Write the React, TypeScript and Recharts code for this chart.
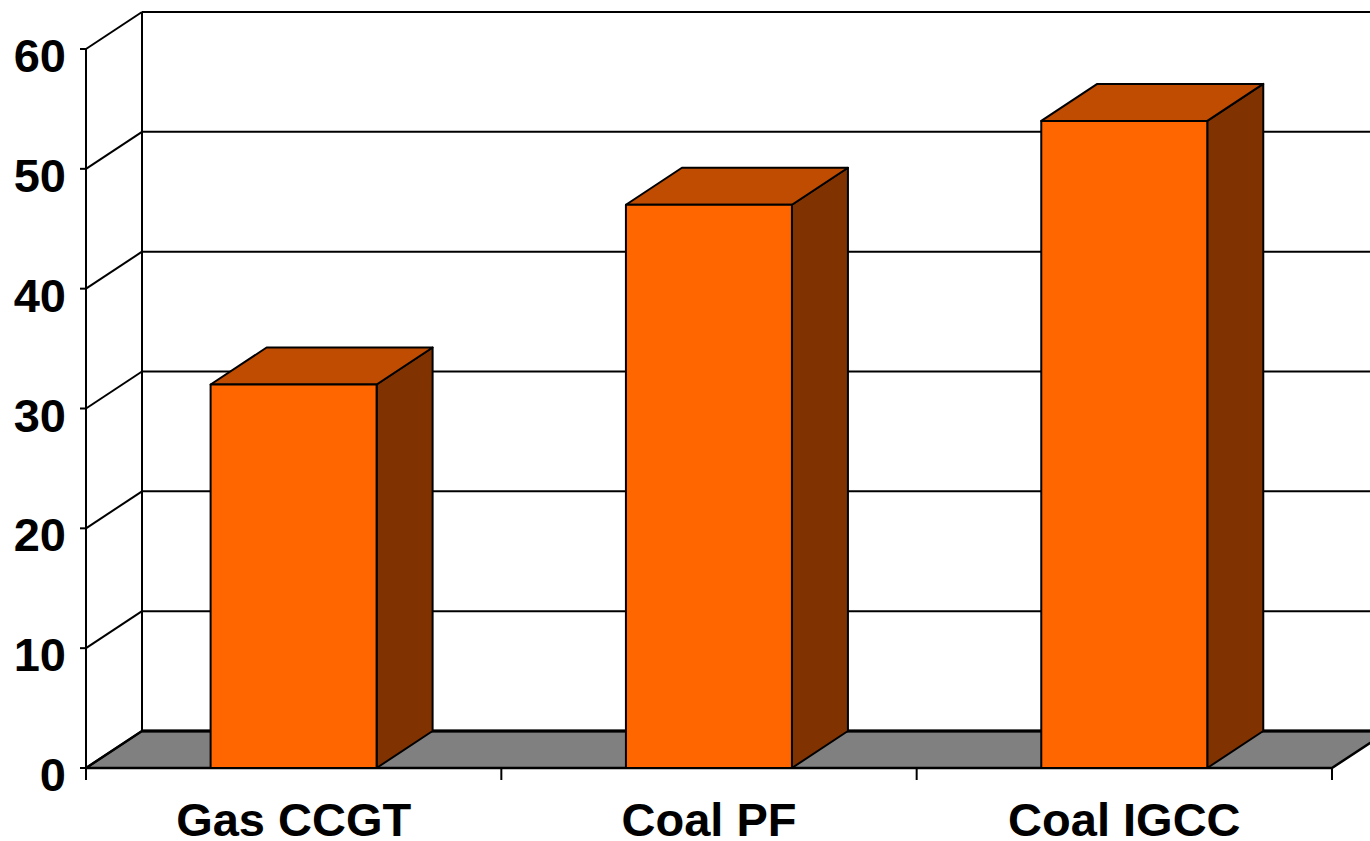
import React from "react";
import { BarChart, Bar, XAxis, YAxis, CartesianGrid } from "recharts";

const categories = ["Gas CCGT", "Coal PF", "Coal IGCC"];
const values = [32, 47, 54];
const yTicks = [0, 10, 20, 30, 40, 50, 60];

const data = categories.map((name, i) => ({ name, value: values[i] }));

// shift of the back plane for the 3D look
const DX = 56;
const DY = 37;
const FONT = "'Liberation Sans', Arial, Helvetica, sans-serif";

// front face + top + right side of each column
const Bar3D = (props: any) => {
  const { x, y, width, height } = props;
  if (!height || height <= 0) return null;
  const r = x + width;
  const b = y + height;
  return (
    <g stroke="#000" strokeWidth={2} strokeLinejoin="round">
      <polygon
        points={`${r},${y} ${r + DX},${y - DY} ${r + DX},${b - DY} ${r},${b}`}
        fill="#803300"
      />
      <polygon
        points={`${x},${y} ${x + DX},${y - DY} ${r + DX},${y - DY} ${r},${y}`}
        fill="#BF4C00"
      />
      <rect x={x} y={y} width={width} height={height} fill="#FF6600" />
    </g>
  );
};

// each horizontal grid line: side-wall diagonal + back-wall line, floor at the bottom
const WallLine = (props: any) => {
  const { x1, x2, y1, index, y, height } = props;
  const bottom =
    typeof y === "number" && typeof height === "number" ? y + height : null;
  const isFloor = bottom != null ? Math.abs(y1 - bottom) < 0.5 : index === 0;
  return (
    <g key={props.key}>
      {isFloor && (
        <polygon
          points={`${x1},${y1} ${x2},${y1} ${x2 + DX},${y1 - DY} ${x1 + DX},${y1 - DY}`}
          fill="#808080"
          stroke="#000"
          strokeWidth={2.5}
          strokeLinejoin="round"
        />
      )}
      <line x1={x1} y1={y1} x2={x1 + DX} y2={y1 - DY} stroke="#000" strokeWidth={2} />
      <line
        x1={x1 + DX}
        y1={y1 - DY}
        x2={x2 + DX}
        y2={y1 - DY}
        stroke="#000"
        strokeWidth={isFloor ? 3 : 2}
      />
    </g>
  );
};

// category boundaries: short ticks under the floor, the first one also
// carries the left edge of the back wall
const WallEdge = (props: any) => {
  const { x1, y1, y2, index } = props;
  return (
    <g key={props.key}>
      {index === 0 && (
        <line
          x1={x1 + DX}
          y1={y1 - DY}
          x2={x1 + DX}
          y2={y2 - DY}
          stroke="#000"
          strokeWidth={2}
        />
      )}
      <line x1={x1} y1={y2} x2={x1} y2={y2 + 12} stroke="#000" strokeWidth={2} />
    </g>
  );
};

const YTick = (props: any) => {
  const { x, y, payload } = props;
  return (
    <text
      x={x}
      y={y}
      dy={23}
      textAnchor="end"
      fontFamily={FONT}
      fontWeight="bold"
      fontSize={47}
      fill="#000"
    >
      {payload.value}
    </text>
  );
};

const XTick = (props: any) => {
  const { x, y, payload } = props;
  return (
    <text
      x={x}
      y={y}
      dy={68}
      textAnchor="middle"
      fontFamily={FONT}
      fontWeight="bold"
      fontSize={47}
      fill="#000"
    >
      {payload.value}
    </text>
  );
};

export default function App() {
  return (
    <div style={{ position: "absolute", left: 0, top: 0, background: "#fff" }}>
      <BarChart
        width={1370}
        height={841}
        data={data}
        barCategoryGap="30%"
        margin={{ top: 49, right: 38, bottom: 0, left: 0 }}
      >
        <CartesianGrid
          stroke="#000"
          horizontal={WallLine}
          vertical={WallEdge}
          verticalCoordinatesGenerator={({ offset }: any) =>
            Array.from(
              { length: categories.length + 1 },
              (_, k) => offset.left + (k * offset.width) / categories.length
            )
          }
        />
        <XAxis
          dataKey="name"
          height={73}
          tickLine={false}
          tickSize={0}
          tickMargin={0}
          axisLine={{ stroke: "#000", strokeWidth: 2 }}
          tick={<XTick />}
          interval={0}
        />
        <YAxis
          domain={[0, 60]}
          ticks={yTicks}
          interval={0}
          width={86}
          axisLine={{ stroke: "#000", strokeWidth: 2 }}
          tickLine={{ stroke: "#000", strokeWidth: 2 }}
          tickSize={6}
          tickMargin={14}
          tick={<YTick />}
        />
        <Bar
          dataKey="value"
          shape={<Bar3D />}
          isAnimationActive={false}
        />
      </BarChart>
    </div>
  );
}
